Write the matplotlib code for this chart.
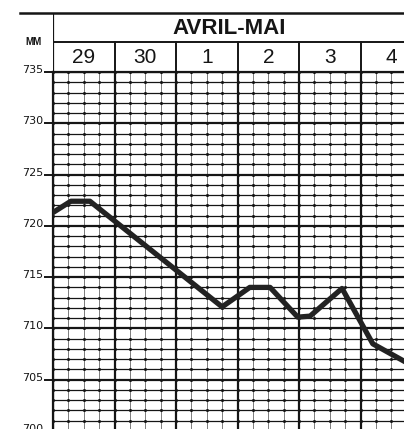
import numpy as np
import matplotlib
matplotlib.use("Agg")
import matplotlib.pyplot as plt
from matplotlib.lines import Line2D
import matplotlib.transforms as mtransforms

# barogramme : temps en jours depuis le 29 avril 0 h, pression en mm
hours = [0.0, 0.29, 0.60, 2.75, 3.20, 3.53, 3.98, 4.18, 4.70, 5.20, 5.71]
pressure = [721.3, 722.4, 722.4, 712.1, 714.0, 714.0, 711.1, 711.2, 713.9, 708.5, 706.8]
days = ["29", "30", "1", "2", "3", "4"]
month = "AVRIL-MAI"
y_ticks = [700, 705, 710, 715, 720, 725, 730, 735]

INK = "#151515"
W, H = 404, 429
plt.rcParams["font.family"] = ["Liberation Sans", "DejaVu Sans"]


def fy(py):
    return 1 - py / H


fig = plt.figure(figsize=(W / 100, H / 100), dpi=100)

# grille principale (déborde à droite et en bas comme le papier coupé)
ax = fig.add_axes([53 / W, fy(431), 369 / W, (431 - 72) / H])
ax.set_xlim(0, 6)
ax.set_ylim(700, 735)
ax.set_xticks(range(7))
ax.set_xticks(np.arange(0, 6, 0.25), minor=True)
ax.set_yticks(y_ticks)
ax.set_yticks(range(700, 736), minor=True)
ax.grid(which="major", color=INK, lw=1.6)
ax.grid(which="minor", axis="y", color=INK, lw=0.9)
ax.grid(which="minor", axis="x", color="#666666", lw=0.6)
ax.set_axisbelow(True)
ax.tick_params(axis="x", which="both", length=0, labelbottom=False)
ax.tick_params(axis="y", which="minor", length=0)
ax.tick_params(axis="y", which="major", length=6.5, width=1.4, pad=0.5,
               labelsize=8, colors=INK)
# étiquettes posées sur le trait, comme sur le papier imprimé
shift = mtransforms.ScaledTranslation(0, -1 / 100, fig.dpi_scale_trans)
for lbl in ax.get_yticklabels():
    lbl.set_family("DejaVu Sans")
    lbl.set_va("baseline")
    lbl.set_transform(lbl.get_transform() + shift)
for s in ("right", "bottom"):
    ax.spines[s].set_visible(False)
for s in ("left", "top"):
    ax.spines[s].set_linewidth(1.6)
    ax.spines[s].set_color(INK)

# points aux croisements de la grille fine
gx, gy = np.meshgrid(np.arange(0, 6.01, 0.25), np.arange(700, 736))
ax.plot(gx.ravel(), gy.ravel(), "o", ms=2.2, color=INK, mew=0, zorder=2)

ax.plot(hours, pressure, color="#222222", lw=3.8,
        solid_joinstyle="round", zorder=5)

# en-tête : mois et jours
hx = fig.add_axes([53 / W, fy(72), 369 / W, (72 - 13) / H])
hx.set_xlim(0, 6)
hx.set_ylim(0, 1)
hx.axis("off")
hx.plot([0, 6], [0.508, 0.508], color=INK, lw=1.4)
hx.plot([0, 0], [0, 1], color=INK, lw=1.6)
for d in range(1, 6):
    hx.plot([d, d], [0, 0.508], color=INK, lw=1.4)
for i, d in enumerate(days):
    hx.text(i + 0.5, 0.25, d, ha="center", va="center", fontsize=15, color=INK)

fig.text(229 / W, fy(28), month, ha="center", va="center", fontsize=16,
         weight="bold", color=INK)
fig.text(34 / W, fy(42), "MM", ha="center", va="center", fontsize=7,
         weight="bold", color=INK)
fig.add_artist(Line2D([20 / W, 1], [fy(13), fy(13)], color=INK, lw=1.8))

fig.savefig("out.png", dpi=100)
